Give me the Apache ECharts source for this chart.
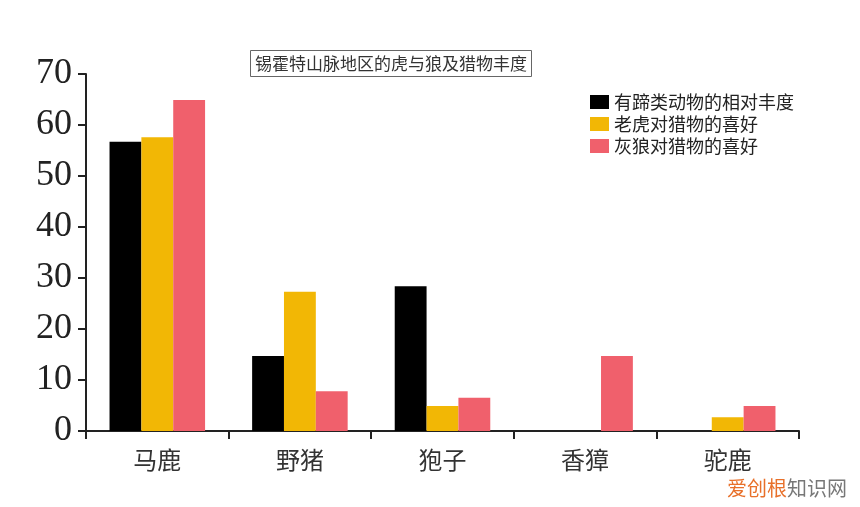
<!DOCTYPE html>
<html><head><meta charset="utf-8">
<script src="https://cdn.jsdelivr.net/npm/echarts@6/dist/echarts.min.js"></script>
<style>html,body{margin:0;padding:0;background:#fff}#c{width:860px;height:507px}</style>
</head><body><div id="c"></div>
<script>
const categories = ['马鹿', '野猪', '狍子', '香獐', '驼鹿'];
const ungulateAbundance = [56.7, 14.7, 28.4, 0, 0];
const tigerPreference = [57.6, 27.3, 4.9, 0, 2.7];
const wolfPreference = [64.9, 7.8, 6.5, 14.7, 4.9];
const seriesNames = ['有蹄类动物的相对丰度', '老虎对猎物的喜好', '灰狼对猎物的喜好'];
const colors = ['#000000', '#f2b705', '#f0606c'];

const chart = echarts.init(document.getElementById('c'));
const cjk = '"Noto Sans CJK SC", sans-serif';
chart.setOption({
  animation: false,
  backgroundColor: '#ffffff',
  color: colors,
  title: {
    text: '锡霍特山脉地区的虎与狼及猎物丰度',
    left: 250, top: 50,
    padding: [5, 5, 5, 5],
    borderColor: '#666', borderWidth: 1,
    textStyle: { fontFamily: cjk, fontSize: 17, fontWeight: 'normal', color: '#333' }
  },
  legend: {
    orient: 'vertical', left: 585, top: 88,
    itemWidth: 19, itemHeight: 14, itemGap: 4,
    icon: 'rect',
    textStyle: { fontFamily: cjk, fontSize: 18, color: '#222' },
    data: seriesNames
  },
  grid: { left: 86, right: 61, top: 74, bottom: 76, containLabel: false },
  xAxis: {
    type: 'category', data: categories,
    axisLine: { lineStyle: { color: '#222', width: 2 } },
    axisTick: { show: true, length: 8, alignWithLabel: false, lineStyle: { color: '#222', width: 2 } },
    axisLabel: { fontFamily: cjk, fontSize: 24, color: '#333', margin: 17 }
  },
  yAxis: {
    type: 'value', min: 0, max: 70, interval: 10,
    splitLine: { show: false },
    axisLine: { show: true, lineStyle: { color: '#222', width: 2 } },
    axisTick: { show: true, length: 8, lineStyle: { color: '#222', width: 2 } },
    axisLabel: { fontFamily: '"Liberation Serif", serif', fontSize: 36, color: '#222', margin: 14 }
  },
  series: [
    { name: seriesNames[0], type: 'bar', data: ungulateAbundance, barGap: '0%', barCategoryGap: '33%' },
    { name: seriesNames[1], type: 'bar', data: tigerPreference, barGap: '0%', barCategoryGap: '33%' },
    { name: seriesNames[2], type: 'bar', data: wolfPreference, barGap: '0%', barCategoryGap: '33%' }
  ],
  graphic: [
    { type: 'text', left: 727, top: 478, style: { text: '爱创根', fill: '#e8702a', font: '20px "Noto Sans CJK SC"' } },
    { type: 'text', left: 787, top: 478, style: { text: '知识网', fill: '#777', font: '20px "Noto Sans CJK SC"' } }
  ]
});
</script></body></html>
